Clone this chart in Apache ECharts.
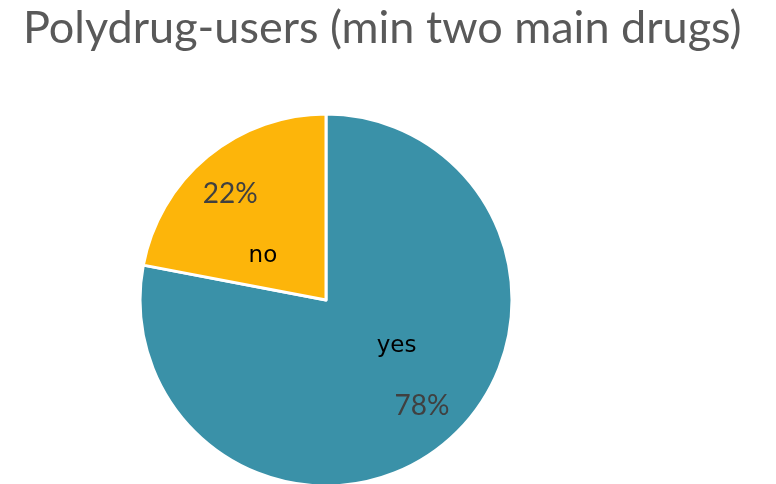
<!DOCTYPE html>
<html>
<head>
<meta charset="utf-8">
<script src="https://cdn.jsdelivr.net/npm/echarts@6/dist/echarts.min.js"></script>
<style>
  html, body { margin: 0; padding: 0; background: #ffffff; }
  #chart { width: 776px; height: 484px; }
</style>
</head>
<body>
<div id="chart"></div>
<script>
// Share of respondents using at least two main drugs
const categories = ['yes', 'no'];
const shares = [78, 22];
const sliceColors = ['#3a91a8', '#fdb50a'];

const titleText = 'Polydrug-users (min two main drugs)';

const pieCenter = [326, 300];
const pieRadius = 186;

const data = categories.map((name, i) => ({
  name: name,
  value: shares[i],
  itemStyle: { color: sliceColors[i] }
}));

// Transparent overlay ring used only to place a text label at a given radius/angle
function labelLayer(startAngle, outerRadius, labelStyle, showFor) {
  return {
    type: 'pie',
    center: pieCenter,
    radius: [0, outerRadius],
    startAngle: startAngle,
    clockwise: true,
    silent: true,
    z: 5,
    itemStyle: { color: 'rgba(0,0,0,0)', borderWidth: 0 },
    emphasis: { disabled: true },
    labelLine: { show: false },
    data: categories.map((name, i) => ({
      name: name,
      value: shares[i],
      label: Object.assign({ show: showFor.indexOf(name) >= 0, position: 'inside' }, labelStyle)
    }))
  };
}

const chart = echarts.init(document.getElementById('chart'), null, { renderer: 'canvas' });

chart.setOption({
  animation: false,
  backgroundColor: '#ffffff',
  title: {
    text: titleText,
    left: 18,
    top: 1,
    textStyle: {
      fontFamily: 'Lato',
      fontWeight: 'normal',
      fontSize: 45,
      color: '#595959'
    }
  },
  series: [
    {
      type: 'pie',
      center: pieCenter,
      radius: [0, pieRadius],
      startAngle: 90,
      clockwise: true,
      silent: true,
      itemStyle: { borderColor: '#ffffff', borderWidth: 3 },
      label: { show: false },
      labelLine: { show: false },
      data: data
    },
    // percentage labels
    labelLayer(92.5, 280, {
      formatter: '{c}%',
      fontFamily: 'Lato',
      fontSize: 28,
      color: '#404040'
    }, ['yes', 'no']),
    // category name labels
    labelLayer(107, 163, {
      formatter: '{b}',
      fontFamily: 'DejaVu Sans',
      fontSize: 23,
      color: '#000000'
    }, ['yes']),
    labelLayer(105.4, 148, {
      formatter: '{b}',
      fontFamily: 'DejaVu Sans',
      fontSize: 23,
      color: '#000000'
    }, ['no'])
  ]
});
</script>
</body>
</html>
